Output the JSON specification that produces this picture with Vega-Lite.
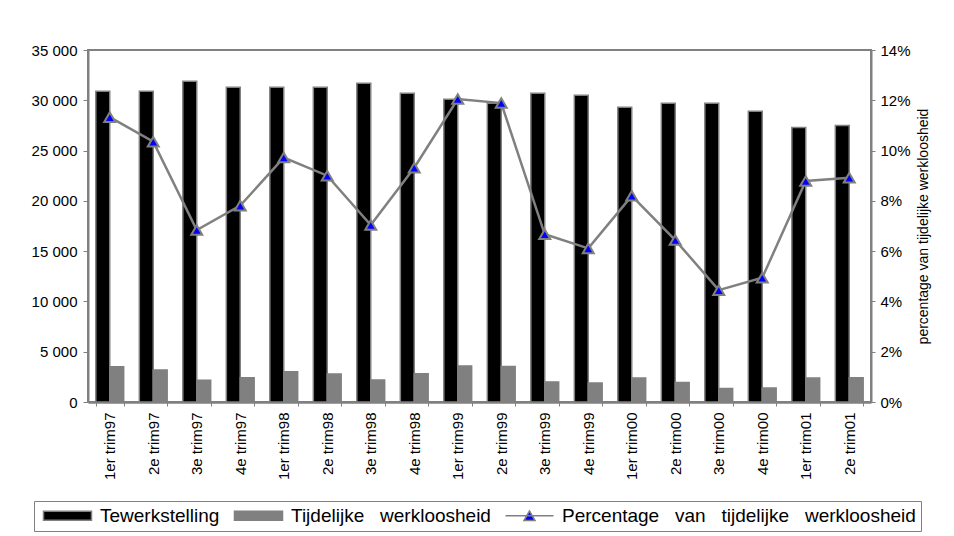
{
  "$schema": "https://vega.github.io/schema/vega-lite/v6.json",
  "width": 783,
  "height": 352,
  "autosize": "none",
  "padding": {"left": 88, "top": 50, "right": 83, "bottom": 134},
  "background": "#ffffff",
  "config": {
    "font": "Liberation Sans",
    "view": {"stroke": "#808080", "strokeWidth": 2},
    "axis": {
      "grid": false,
      "domainColor": "#808080",
      "domainWidth": 2,
      "tickColor": "#808080",
      "tickWidth": 1,
      "labelColor": "#000000",
      "labelFont": "Liberation Sans",
      "labelFontSize": 15,
      "titleFont": "Liberation Sans",
      "titleFontWeight": "normal",
      "titleColor": "#000000"
    },
    "legend": {
      "title": null,
      "orient": "none",
      "direction": "horizontal",
      "legendX": -54,
      "legendY": 451,
      "strokeColor": "#808080",
      "padding": 5,
      "columnPadding": 10,
      "symbolSize": 100,
      "symbolStrokeWidth": 1.5,
      "symbolStrokeColor": "#808080",
      "symbolOpacity": 1,
      "labelOffset": 42,
      "labelFont": "Liberation Sans",
      "labelFontSize": 19,
      "labelColor": "#000000",
      "labelLimit": 500
    }
  },
  "data": {
    "values": [
      {"q": "1er trim97", "Tewerkstelling": 30900, "Tijdelijke werkloosheid": 3500, "pct": 0.1133},
      {"q": "2e trim97", "Tewerkstelling": 30900, "Tijdelijke werkloosheid": 3180, "pct": 0.1035},
      {"q": "3e trim97", "Tewerkstelling": 31900, "Tijdelijke werkloosheid": 2170, "pct": 0.0684},
      {"q": "4e trim97", "Tewerkstelling": 31300, "Tijdelijke werkloosheid": 2400, "pct": 0.0781},
      {"q": "1er trim98", "Tewerkstelling": 31300, "Tijdelijke werkloosheid": 3000, "pct": 0.0972},
      {"q": "2e trim98", "Tewerkstelling": 31300, "Tijdelijke werkloosheid": 2780, "pct": 0.0900},
      {"q": "3e trim98", "Tewerkstelling": 31700, "Tijdelijke werkloosheid": 2190, "pct": 0.0704},
      {"q": "4e trim98", "Tewerkstelling": 30700, "Tijdelijke werkloosheid": 2800, "pct": 0.0932},
      {"q": "1er trim99", "Tewerkstelling": 30100, "Tijdelijke werkloosheid": 3590, "pct": 0.1205},
      {"q": "2e trim99", "Tewerkstelling": 29700, "Tijdelijke werkloosheid": 3540, "pct": 0.1189},
      {"q": "3e trim99", "Tewerkstelling": 30700, "Tijdelijke werkloosheid": 2000, "pct": 0.0667},
      {"q": "4e trim99", "Tewerkstelling": 30500, "Tijdelijke werkloosheid": 1900, "pct": 0.0611},
      {"q": "1er trim00", "Tewerkstelling": 29300, "Tijdelijke werkloosheid": 2380, "pct": 0.0820},
      {"q": "2e trim00", "Tewerkstelling": 29700, "Tijdelijke werkloosheid": 1930, "pct": 0.0644},
      {"q": "3e trim00", "Tewerkstelling": 29700, "Tijdelijke werkloosheid": 1340, "pct": 0.0445},
      {"q": "4e trim00", "Tewerkstelling": 28900, "Tijdelijke werkloosheid": 1390, "pct": 0.0494},
      {"q": "1er trim01", "Tewerkstelling": 27300, "Tijdelijke werkloosheid": 2380, "pct": 0.0879},
      {"q": "2e trim01", "Tewerkstelling": 27500, "Tijdelijke werkloosheid": 2400, "pct": 0.0892}
    ]
  },
  "encoding": {
    "x": {
      "field": "q",
      "type": "nominal",
      "sort": null,
      "scale": {"paddingInner": 0.36, "paddingOuter": 0.18},
      "axis": {
        "title": null,
        "labelAngle": 270,
        "tickBand": "extent",
        "tickSize": 4,
        "labelPadding": 6,
        "domainWidth": 2.5
      }
    }
  },
  "layer": [
    {
      "transform": [{"fold": ["Tewerkstelling", "Tijdelijke werkloosheid", "Percentage van tijdelijke werkloosheid"], "as": ["series", "value"]}],
      "encoding": {
        "y": {
          "field": "value",
          "type": "quantitative",
          "scale": {"domain": [0, 35000]},
          "axis": {
            "title": null,
            "values": [0, 5000, 10000, 15000, 20000, 25000, 30000, 35000],
            "labelExpr": "replace(format(datum.value, ','), ',', ' ')",
            "tickSize": 5,
            "labelPadding": 6
          }
        },
        "color": {
          "field": "series",
          "type": "nominal",
          "scale": {
            "domain": ["Tewerkstelling", "Tijdelijke werkloosheid", "Percentage van tijdelijke werkloosheid"],
            "range": ["#000000", "#808080", "#0000FF"]
          },
          "legend": {
            "labelExpr": "join(split(datum.label, ' '), '\u00a0\u00a0\u00a0')",
            "symbolStrokeColor": "#808080",
            "symbolStrokeWidth": 1.5,
            "encoding": {"symbols": {"stroke": {"value": "#808080"}, "strokeWidth": {"value": 1.5}}}
          }
        }
      },
      "layer": [
        {
          "transform": [{"filter": "datum.series != 'Percentage van tijdelijke werkloosheid'"}],
          "mark": {"type": "bar", "stroke": "#808080", "strokeWidth": 1.5},
          "encoding": {
            "xOffset": {"field": "series", "type": "nominal", "sort": ["Tewerkstelling", "Tijdelijke werkloosheid"]}
          }
        },
        {
          "transform": [{"filter": "datum.q == '1er trim97'"}],
          "mark": {"type": "point", "filled": true, "opacity": 0, "stroke": "#808080", "strokeWidth": 1.5},
          "encoding": {
            "shape": {
              "field": "series",
              "type": "nominal",
              "scale": {
                "domain": ["Tewerkstelling", "Tijdelijke werkloosheid", "Percentage van tijdelijke werkloosheid"],
                "range": ["M-1,-0.9H8.6V0.9H-1Z", "M-1,-0.9H8.6V0.9H-1Z", "M-1,0H8.6M2.7,0.95L3.8,-0.95L4.9,0.95Z"]
              },
              "legend": {
                "labelExpr": "join(split(datum.label, ' '), '\u00a0\u00a0\u00a0')",
                "symbolStrokeColor": "#808080",
                "symbolStrokeWidth": 1.5,
                "encoding": {"symbols": {"stroke": {"value": "#808080"}, "strokeWidth": {"value": 1.5}}}
              }
            }
          }
        }
      ]
    },
    {
      "encoding": {
        "y": {
          "field": "pct",
          "type": "quantitative",
          "scale": {"domain": [0, 0.14]},
          "axis": {
            "orient": "right",
            "title": "percentage van tijdelijke werkloosheid",
            "titleAngle": 270,
            "titleFontSize": 14,
            "titlePadding": 20,
            "values": [0, 0.02, 0.04, 0.06, 0.08, 0.1, 0.12, 0.14],
            "format": ".0%",
            "tickSize": 4,
            "labelPadding": 5
          }
        }
      },
      "layer": [
        {"mark": {"type": "line", "color": "#808080", "strokeWidth": 2.5}},
        {"mark": {"type": "point", "shape": "triangle-up", "filled": true, "fill": "#0000FF", "stroke": "#808080", "strokeWidth": 2, "size": 121, "opacity": 1}}
      ]
    }
  ],
  "resolve": {"scale": {"y": "independent"}}
}
